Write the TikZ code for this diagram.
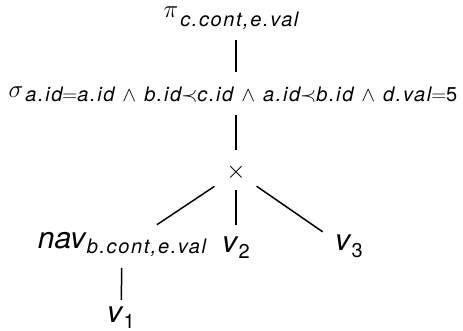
\documentclass[tikz,border=0pt]{standalone}
\usepackage{fontspec}
\setmainfont{TeX Gyre Heros}
\usetikzlibrary{positioning}
% subscript text, set small and spaced out
\newcommand{\subs}[1]{{\fontsize{20}{24}\selectfont\addfontfeature{LetterSpace=8}\itshape #1}}
\newcommand{\low}[2]{\raisebox{-#1}{\subs{#2}}}
\newcommand{\nd}{\hspace{8pt}$\wedge$\hspace{8pt}}
\tikzset{
  % operator / leaf label
  op/.style={font=\fontsize{30}{36}\selectfont, inner sep=0pt, anchor=base},
  % tree edge
  edge/.style={line width=1.5pt, black},
}

\begin{document}
\begin{tikzpicture}[x=1pt, y=-1pt]
\useasboundingbox (0,0) rectangle (463,331);

%% operators
\node[op] (proj) at (231,18) {$\pi$\hspace{2pt}\low{9pt}{c.cont,e.val}};
\node[op] (sel) at (233,98)
  {$\sigma$\hspace{2pt}\low{4pt}{a.id$=$a.id\nd b.id$\prec$c.id\nd a.id$\prec$b.id\nd d.val$=$\textup{5}}};
\node[op, anchor=center] (prod) at (236,172) {$\times$};

%% children
\node[op] (nav) at (122,248) {\textit{nav}\low{5pt}{b.cont,e.val}};
\node[op] (v2) at (236,252) {\textit{v}\low{6pt}{\textup{2}}};
\node[op] (v3) at (349,250) {\textit{v}\low{7pt}{\textup{3}}};
\node[op] (v1) at (121,322) {\textit{v}\low{6pt}{\textup{1}}};

%% edges
\draw[edge, shorten <=22pt, shorten >=26pt] (proj.base -| prod) -- (sel.base -| prod);
\draw[edge, shorten <=17pt, shorten >=22pt] (sel.base -| prod) -- (prod.center);
\draw[edge, shorten <=26pt, shorten >=42pt] (prod.center) -- (nav.base);
\draw[edge, shorten <=18pt, shorten >=27pt] (prod.center) -- (v2.base);
\draw[edge, shorten <=25pt, shorten >=32pt] (prod.center) -- (v3.base);
\draw[edge, shorten <=20pt, shorten >=22pt] (nav.base) -- (v1.base);

\end{tikzpicture}
\end{document}
